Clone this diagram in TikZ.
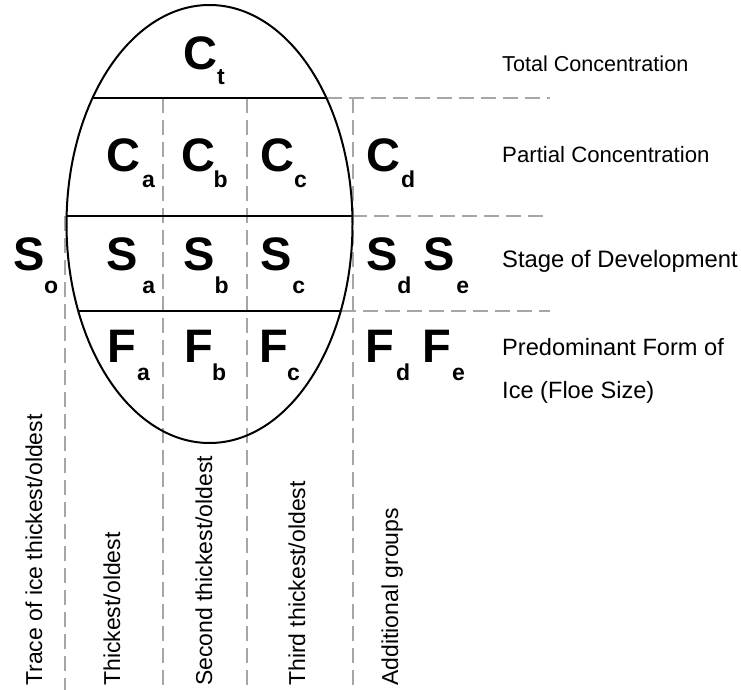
\documentclass[tikz,border=0pt]{standalone}
\usepackage{fontspec}
\setmainfont{Liberation Sans}
\newcommand{\icesym}[4]{{\fontsize{47}{47}\selectfont\bfseries #1}\kern#3pt\raisebox{-#4pt}{\fontsize{23}{23}\selectfont\bfseries #2}}
\begin{document}
\begin{tikzpicture}[x=1pt,y=-1pt,
  symb/.style={inner sep=0pt, anchor=base west},
  lab/.style={inner sep=0pt, anchor=base west},
  vlab/.style={font=\fontsize{23}{23}\selectfont, inner sep=0pt, anchor=base west, rotate=90},
  gridline/.style={draw=black!35, line width=2pt, dash pattern=on 15pt off 7pt},
  rowline/.style={draw=black, line width=2pt}]
\useasboundingbox (0,0) rectangle (741,690);
% coordinates
\coordinate (v0t) at (65,216);  \coordinate (v0b) at (65,690);
\coordinate (v1t) at (163,98);  \coordinate (v1b) at (163,690);
\coordinate (v2t) at (247,98);  \coordinate (v2b) at (247,690);
\coordinate (v3t) at (353,98);  \coordinate (v3b) at (353,690);
\coordinate (l1) at (92.5,98);  \coordinate (r1) at (326.5,98);  \coordinate (h1) at (550,98);
\coordinate (l2) at (66.6,216); \coordinate (r2) at (352.4,216); \coordinate (h2) at (550,216);
\coordinate (l3) at (78.3,311); \coordinate (r3) at (340.7,311); \coordinate (h3) at (550,311);
% gray dashed grid
\draw[gridline] (v0t) -- (v0b);
\draw[gridline] (v1t) -- (v1b);
\draw[gridline] (v2t) -- (v2b);
\draw[gridline] (v3t) -- (v3b);
\draw[gridline] (r1) -- (h1);
\draw[gridline] (r2) -- (h2);
\draw[gridline] (r3) -- (h3);
% ellipse and rows
\draw[line width=2pt] (209.5,224) ellipse [x radius=143pt, y radius=219pt];
\draw[rowline] (l1) -- (r1);
\draw[rowline] (l2) -- (r2);
\draw[rowline] (l3) -- (r3);
% symbols
\node[symb] (Ct) at (183,70) {\icesym{C}{t}{0}{15}};
\node[symb] (Ca) at (106,171) {\icesym{C}{a}{2}{17}};
\node[symb] (Cb) at (181,171) {\icesym{C}{b}{-1.5}{17}};
\node[symb] (Cc) at (260,171) {\icesym{C}{c}{0}{17}};
\node[symb] (Cd) at (366,171) {\icesym{C}{d}{1}{17}};
\node[symb] (So) at (13,270) {\icesym{S}{o}{-0.3}{23}};
\node[symb] (Sa) at (106,270) {\icesym{S}{a}{4.7}{23}};
\node[symb] (Sb) at (183,270) {\icesym{S}{b}{0}{23}};
\node[symb] (Sc) at (260,270) {\icesym{S}{c}{0.7}{23}};
\node[symb] (Sd) at (366,270) {\icesym{S}{d}{-0.3}{23}};
\node[symb] (Se) at (423,270) {\icesym{S}{e}{1.7}{23}};
\node[symb] (Fa) at (107,362) {\icesym{F}{a}{1.3}{18}};
\node[symb] (Fb) at (184,362) {\icesym{F}{b}{-0.7}{18}};
\node[symb] (Fc) at (259,362) {\icesym{F}{c}{-0.7}{18}};
\node[symb] (Fd) at (365,362) {\icesym{F}{d}{2.3}{18}};
\node[symb] (Fe) at (422,362) {\icesym{F}{e}{1.3}{18}};
% right labels
\node[lab, font=\fontsize{21.6}{21.6}\selectfont] (tot) at (502,72) {Total Concentration};
\node[lab, font=\fontsize{22.2}{22.2}\selectfont] (par) at (502,162) {Partial Concentration};
\node[lab, font=\fontsize{23.8}{23.8}\selectfont] (stg) at (502,267) {Stage of Development};
\node[lab, font=\fontsize{23.6}{23.6}\selectfont] (pre) at (502,355) {Predominant Form of};
\node[lab, font=\fontsize{23.6}{23.6}\selectfont] (ice) at (502,398) {Ice (Floe Size)};
% vertical labels
\node[vlab] (tr) at (42,686) {Trace of ice thickest/oldest};
\node[vlab] (th) at (120,686) {Thickest/oldest};
\node[vlab] (se) at (212,686) {Second thickest/oldest};
\node[vlab] (tt) at (305,686) {Third thickest/oldest};
\node[vlab] (ad) at (398,686) {Additional groups};
\end{tikzpicture}
\end{document}
